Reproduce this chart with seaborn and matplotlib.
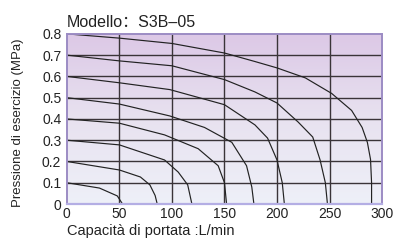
import numpy as np
import pandas as pd
import seaborn as sns
import matplotlib.pyplot as plt
from matplotlib import font_manager
from matplotlib.colors import LinearSegmentedColormap

# flow (L/min) vs pressure (MPa), one curve per set pressure
flow_08 = [0, 50, 100, 150, 179, 200, 227, 252, 271, 281, 286, 289, 290, 290]
pres_08 = [0.8, 0.78, 0.755, 0.71, 0.67, 0.64, 0.593, 0.52, 0.44, 0.36, 0.29, 0.21, 0.1, 0]
flow_07 = [0, 50, 100, 150, 179, 200, 220, 234, 241, 246, 248]
pres_07 = [0.7, 0.673, 0.65, 0.585, 0.527, 0.475, 0.386, 0.315, 0.207, 0.1, 0]
flow_06 = [0, 50, 98, 150, 179, 191, 200, 205, 207]
pres_06 = [0.6, 0.57, 0.538, 0.467, 0.372, 0.31, 0.207, 0.1, 0]
flow_05 = [0, 50, 98, 131, 157, 171, 176, 178]
pres_05 = [0.5, 0.47, 0.414, 0.36, 0.29, 0.18, 0.08, 0]
flow_04 = [0, 50, 93, 125, 144, 150, 152]
pres_04 = [0.4, 0.38, 0.325, 0.26, 0.18, 0.10, 0]
flow_03 = [0, 50, 93, 106, 115, 119]
pres_03 = [0.3, 0.278, 0.207, 0.15, 0.09, 0]
flow_02 = [0, 50, 70, 79, 84, 86]
pres_02 = [0.2, 0.16, 0.127, 0.09, 0.04, 0]
flow_01 = [0, 31, 48, 53]
pres_01 = [0.1, 0.075, 0.038, 0]

x_ticks = [0, 50, 100, 150, 200, 250, 300]
y_ticks = [0, 0.1, 0.2, 0.3, 0.4, 0.5, 0.6, 0.7, 0.8]
y_labels = ['0', '0.1', '0.2', '0.3', '0.4', '0.5', '0.6', '0.7', '0.8']

curves = [(flow_08, pres_08), (flow_07, pres_07), (flow_06, pres_06), (flow_05, pres_05),
          (flow_04, pres_04), (flow_03, pres_03), (flow_02, pres_02), (flow_01, pres_01)]
rows = []
for i, (f, p) in enumerate(curves):
    for a, b in zip(f, p):
        rows.append({'curve': i, 'flow': a, 'pres': b})
df = pd.DataFrame(rows)

sns.set_style('white')
plt.rcParams['font.family'] = ['Liberation Sans', 'Noto Sans CJK SC', 'DejaVu Sans']

# narrow face for the rotated label if it is there
names = {f.name for f in font_manager.fontManager.ttflist}
narrow = 'Liberation Sans Narrow' if 'Liberation Sans Narrow' in names else 'Liberation Sans'

fig = plt.figure(figsize=(3.98, 2.42), dpi=100)
ax = fig.add_axes([0.168, 0.157, 0.792, 0.703])

# background gradient, purple at the top fading to pale lavender
cmap = LinearSegmentedColormap.from_list('bg', ['#eef0f8', '#e8e2f0', '#dcc8e6'])
grad = np.linspace(0, 1, 256).reshape(-1, 1)
ax.imshow(grad, aspect='auto', cmap=cmap, origin='lower',
          extent=[0, 1, 0, 1], transform=ax.transAxes, zorder=0)

for v in x_ticks[1:-1]:
    ax.axvline(v, color='#3a3438', lw=1.0, zorder=1)
for v in y_ticks[1:-1]:
    ax.axhline(v, color='#3a3438', lw=1.0, zorder=1)

sns.lineplot(data=df, x='flow', y='pres', units='curve', estimator=None,
             sort=False, color='#222222', lw=0.85, ax=ax, zorder=2)

ax.set_xlim(0, 300)
ax.set_ylim(0, 0.8)
ax.set_xticks(x_ticks)
ax.set_yticks(y_ticks)
ax.set_yticklabels(y_labels)
ax.tick_params(length=0, labelsize=10, colors='#222222', pad=4)
ax.tick_params(axis='x', pad=2)
for s in ['top', 'left', 'right']:
    ax.spines[s].set_color('#9c8cc4')
    ax.spines[s].set_linewidth(1.4)
ax.spines['bottom'].set_color('#b4aee4')
ax.spines['bottom'].set_linewidth(1.6)

ax.set_xlabel('Capacità di portata :L/min', fontsize=10.5, color='#222222', loc='left')
ax.xaxis.set_label_coords(0.0, -0.12)
ax.set_ylabel('Pressione di esercizio (MPa)', fontsize=9.5, color='#222222', family=narrow)
ax.yaxis.set_label_coords(-0.135, 0.48)
ax.set_title('Modello：S3B–05', loc='left', fontsize=11.5, color='#222222', pad=5)

fig.savefig('out.png', dpi=100)
